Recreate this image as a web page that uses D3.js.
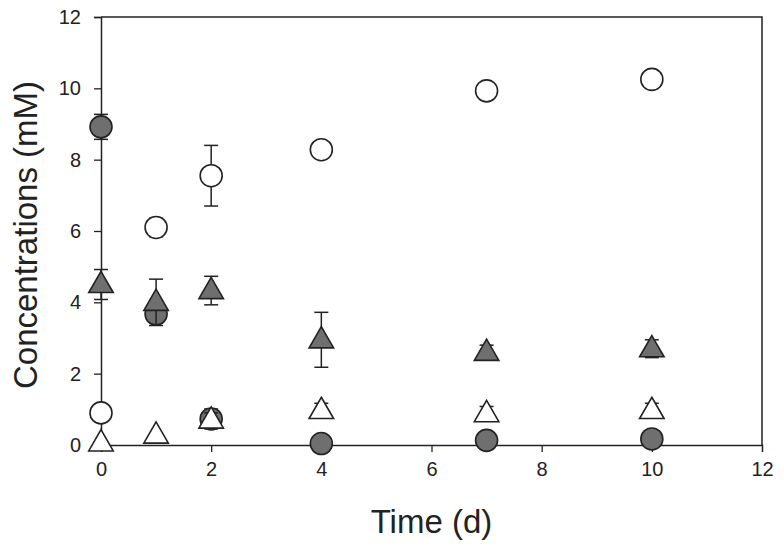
<!DOCTYPE html>
<html>
<head>
<meta charset="utf-8">
<script src="https://cdn.jsdelivr.net/npm/d3@7"></script>
<style>
  body { margin: 0; background: #fff; }
  svg text { font-family: "Liberation Sans", Arial, sans-serif; fill: #222; }
</style>
</head>
<body>
<svg id="chart" width="784" height="550"></svg>
<script>
// time points (d)
const days = [0, 1, 2, 4, 7, 10];

// series values (mM) and error bars
const grayCircle = [8.92, 3.67, 0.73, 0.04, 0.13, 0.17];
const grayCircleErr = [0.35, 0.2, 0.28, 0, 0, 0];

const openCircle = [0.9, 6.1, 7.55, 8.28, 9.93, 10.25];
const openCircleErr = [0, 0.26, 0.85, 0, 0, 0];

const grayTriangle = [4.5, 4.0, 4.33, 2.95, 2.6, 2.7];
const grayTriangleErr = [0.42, 0.65, 0.4, 0.77, 0.2, 0.25];

const openTriangle = [0.06, 0.28, 0.7, 0.97, 0.88, 0.97];
const openTriangleErr = [0, 0, 0.2, 0.2, 0.2, 0.2];

const xTicks = [0, 2, 4, 6, 8, 10, 12];
const yTicks = [0, 2, 4, 6, 8, 10, 12];

const margin = {top: 17, right: 22, bottom: 105, left: 101};
const width = 784 - margin.left - margin.right;
const height = 550 - margin.top - margin.bottom;

const svg = d3.select("#chart");
const g = svg.append("g").attr("transform", `translate(${margin.left},${margin.top})`);

const x = d3.scaleLinear().domain([0, 12]).range([0, width]);
const y = d3.scaleLinear().domain([0, 12]).range([height, 0]);

const stroke = "#222";
const grayFill = "#6f6f6f";

// frame (top and right)
g.append("path")
    .attr("d", `M0,0H${width}V${height}`)
    .attr("fill", "none")
    .attr("stroke", stroke)
    .attr("stroke-width", 1.5);

// axes
const xAxis = g.append("g")
    .attr("transform", `translate(0,${height})`)
    .call(d3.axisBottom(x).tickValues(xTicks).tickSize(7).tickPadding(10).tickFormat(d3.format("d")));
const yAxis = g.append("g")
    .call(d3.axisLeft(y).tickValues(yTicks).tickSize(7).tickPadding(13).tickFormat(d3.format("d")));

[xAxis, yAxis].forEach(a => {
    a.select(".domain").attr("stroke", stroke).attr("stroke-width", 1.5);
    a.selectAll(".tick line").attr("stroke", stroke).attr("stroke-width", 1.3);
    a.selectAll(".tick text").style("font-size", "20px").attr("fill", "#222");
});
// the right spine covers tick 12 on the bottom
xAxis.selectAll(".tick").filter(d => d == 12).select("line").remove();

// axis titles
svg.append("text")
    .attr("x", margin.left + width / 2)
    .attr("y", 533)
    .attr("text-anchor", "middle")
    .style("font-size", "33px")
    .text("Time (d)");

svg.append("text")
    .attr("transform", `translate(37,235) rotate(-90)`)
    .attr("text-anchor", "middle")
    .style("font-size", "33px")
    .text("Concentrations (mM)");

function drawSeries(values, errs, shape, fill) {
    const data = days.map((d, i) => ({t: d, v: values[i], e: errs[i]}));
    const grp = g.append("g");

    // error bars first, marker goes on top
    const capW = 7;
    const eb = grp.selectAll("g.err")
        .data(data.filter(d => d.e > 0))
        .enter()
        .append("g")
        .attr("class", "err")
        .attr("stroke", stroke)
        .attr("stroke-width", 1.5);
    eb.append("line")
        .attr("x1", d => x(d.t)).attr("x2", d => x(d.t))
        .attr("y1", d => y(d.v + d.e)).attr("y2", d => y(d.v - d.e));
    eb.append("line")
        .attr("x1", d => x(d.t) - capW).attr("x2", d => x(d.t) + capW)
        .attr("y1", d => y(d.v + d.e)).attr("y2", d => y(d.v + d.e));
    eb.append("line")
        .attr("x1", d => x(d.t) - capW).attr("x2", d => x(d.t) + capW)
        .attr("y1", d => y(d.v - d.e)).attr("y2", d => y(d.v - d.e));

    const sym = shape == "circle"
        ? d3.symbol().type(d3.symbolCircle).size(Math.PI * 11 * 11)
        : d3.symbol().type(d3.symbolTriangle).size(260);
    grp.selectAll("path.mark")
        .data(data)
        .enter()
        .append("path")
        .attr("class", "mark")
        .attr("d", sym)
        .attr("transform", d => `translate(${x(d.t)},${y(d.v) + (shape == "circle" ? 0 : 1)})`)
        .attr("fill", fill)
        .attr("stroke", stroke)
        .attr("stroke-width", 1.6);
}

drawSeries(grayCircle, grayCircleErr, "circle", grayFill);
drawSeries(openCircle, openCircleErr, "circle", "#fff");
drawSeries(grayTriangle, grayTriangleErr, "triangle", grayFill);
drawSeries(openTriangle, openTriangleErr, "triangle", "#fff");
</script>
</body>
</html>
